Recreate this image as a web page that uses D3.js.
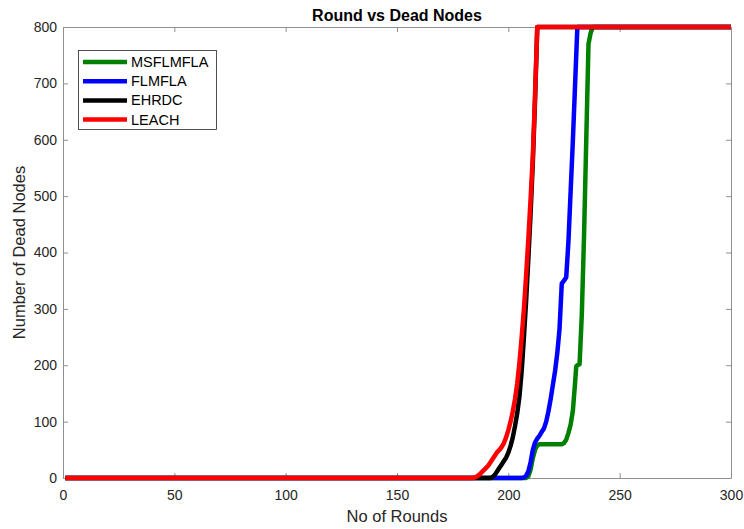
<!DOCTYPE html>
<html>
<head>
<meta charset="utf-8">
<script src="https://cdn.jsdelivr.net/npm/d3@7"></script>
<style>
  html, body { margin: 0; padding: 0; background: #fff; }
  svg { display: block; font-family: "Liberation Sans", Arial, sans-serif; }
</style>
</head>
<body>
<svg id="chart" width="744" height="529"></svg>
<script>
// Dead nodes per round for each protocol, as [round, dead nodes] breakpoints
const msflmfla = [[1,0],[208,0],[209,3],[210,15],[211,35],[212,50],[213,58],[214,60],[224,60],[225,62],[226,68],[227,80],[228,95],[229,120],[230,170],[230.5,198],[231,200],[232,202],[233,290],[234,430],[235,600],[236,770],[237,790],[238,800],[300,800]];
const flmfla   = [[1,0],[206,0],[207,1],[208,4],[209,12],[210,28],[211,50],[212,63],[213,70],[214,75],[215,82],[216,88],[217,100],[218,118],[219,140],[220,165],[221,190],[222,222],[223,265],[224,345],[225,350],[226,356],[227,420],[228,510],[229,600],[230,700],[231,800],[300,800]];
const ehrdc    = [[1,0],[192,0],[193,2],[194,6],[195,12],[196,18],[197,24],[198,30],[199,36],[200,45],[201,57],[202,72],[203,92],[204,115],[205,145],[206,190],[207,250],[208,315],[209,390],[210,470],[211,560],[212,670],[213,800],[300,800]];
const leach    = [[1,0],[184,0],[185,1],[186,3],[187,6],[188,10],[189,14],[190,18],[191,22],[192,28],[193,34],[194,40],[195,46],[196,50],[197,55],[198,62],[199,72],[200,85],[201,100],[202,118],[203,140],[204,168],[205,205],[206,250],[207,300],[208,360],[209,425],[210,495],[211,570],[212,680],[213,800],[300,800]];

const seriesNames  = ["MSFLMFLA", "FLMFLA", "EHRDC", "LEACH"];
const seriesData   = [msflmfla, flmfla, ehrdc, leach];
const seriesColors = ["#008000", "#0000ff", "#000000", "#ff0000"];

const xTicks = [0, 50, 100, 150, 200, 250, 300];
const yTicks = [0, 100, 200, 300, 400, 500, 600, 700, 800];

const svg = d3.select("#chart");
const plotLeft = 63, plotRight = 731, plotTop = 27, plotBottom = 478;

const x = d3.scaleLinear().domain([0, 300]).range([plotLeft, plotRight]);
const y = d3.scaleLinear().domain([0, 800]).range([plotBottom, plotTop]);

const axisColor = "#8f8f8f";
const textColor = "#262626";

// Plot area
svg.append("rect").attr("x", plotLeft).attr("y", plotTop)
  .attr("width", plotRight - plotLeft).attr("height", plotBottom - plotTop)
  .attr("fill", "#fff");

// Axes with inward ticks on all four sides
function styleAxis(g) {
  g.select(".domain").attr("stroke", axisColor);
  g.selectAll(".tick line").attr("stroke", axisColor);
  g.selectAll(".tick text").attr("fill", textColor).attr("font-size", 14)
    .attr("font-family", "Liberation Sans, Arial, sans-serif");
}
svg.append("g").attr("transform", `translate(0,${plotBottom})`)
  .call(d3.axisBottom(x).tickValues(xTicks).tickSizeInner(-5).tickSizeOuter(0).tickPadding(12))
  .call(styleAxis);
svg.append("g").attr("transform", `translate(0,${plotTop})`)
  .call(d3.axisTop(x).tickValues(xTicks).tickSizeInner(-5).tickSizeOuter(0).tickFormat(""))
  .call(styleAxis);
svg.append("g").attr("transform", `translate(${plotLeft},0)`)
  .call(d3.axisLeft(y).tickValues(yTicks).tickSizeInner(-5).tickSizeOuter(0).tickPadding(6))
  .call(styleAxis);
svg.append("g").attr("transform", `translate(${plotRight},0)`)
  .call(d3.axisRight(y).tickValues(yTicks).tickSizeInner(-5).tickSizeOuter(0).tickFormat(""))
  .call(styleAxis);

// Series lines
svg.append("clipPath").attr("id", "plotClip").append("rect")
  .attr("x", plotLeft).attr("y", plotTop - 3).attr("width", plotRight - plotLeft).attr("height", plotBottom - plotTop + 6);

const line = d3.line().x(d => x(d[0])).y(d => y(d[1]));
const lines = svg.append("g").attr("clip-path", "url(#plotClip)");
seriesData.forEach((data, i) => {
  lines.append("path").datum(data)
    .attr("d", line)
    .attr("fill", "none")
    .attr("stroke", seriesColors[i])
    .attr("stroke-width", 4.5)
    .attr("stroke-linejoin", "round");
});

// Title and axis labels
svg.append("text").attr("x", (plotLeft + plotRight) / 2).attr("y", 21)
  .attr("text-anchor", "middle").attr("font-size", 16).attr("font-weight", "bold")
  .attr("fill", "#000").text("Round vs Dead Nodes");
svg.append("text").attr("x", (plotLeft + plotRight) / 2).attr("y", 522)
  .attr("text-anchor", "middle").attr("font-size", 16.5)
  .attr("fill", textColor).text("No of Rounds");
svg.append("text").attr("transform", `translate(25,${(plotTop + plotBottom) / 2}) rotate(-90)`)
  .attr("text-anchor", "middle").attr("font-size", 16.5)
  .attr("fill", textColor).text("Number of Dead Nodes");

// Legend
const legend = svg.append("g");
legend.append("rect").attr("x", 78.5).attr("y", 50.5).attr("width", 138).attr("height", 79)
  .attr("fill", "#fff").attr("stroke", textColor).attr("stroke-width", 0.8);
seriesNames.forEach((name, i) => {
  const ly = 62 + i * 19.2;
  legend.append("line").attr("x1", 83).attr("x2", 127).attr("y1", ly).attr("y2", ly)
    .attr("stroke", seriesColors[i]).attr("stroke-width", 4.5);
  legend.append("text").attr("x", 131).attr("y", ly + 5)
    .attr("font-size", 14.5).attr("fill", "#000").text(name);
});
</script>
</body>
</html>
